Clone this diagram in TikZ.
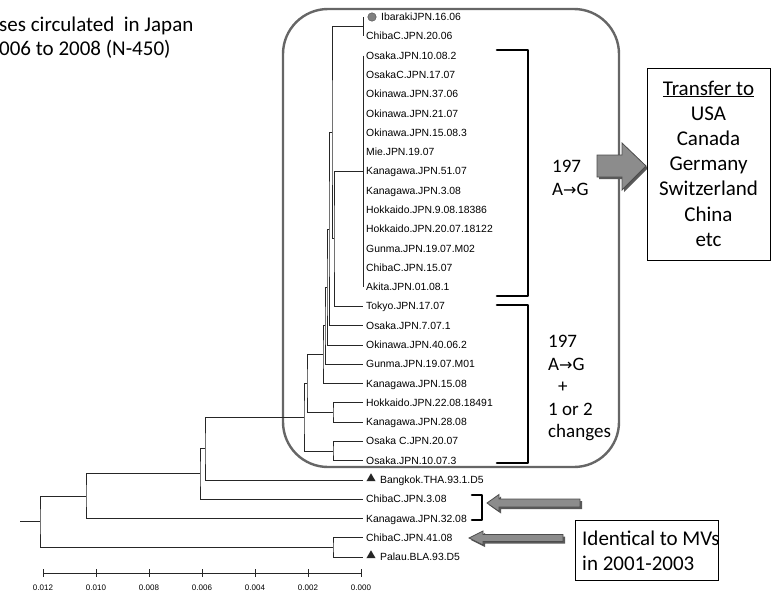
\documentclass[tikz,border=0pt]{standalone}
\usepackage{fontspec}
\setmainfont{Liberation Sans}
\newfontfamily\calfont{Carlito}
\newfontfamily\arrfont{DejaVu Sans}
\usetikzlibrary{shapes.geometric}
\begin{document}
\begin{tikzpicture}[x=1pt,y=-1pt,
 br/.style={line width=0.7pt, draw=black!85},
 leaf/.style={anchor=base west, inner sep=0pt, font=\fontsize{10.4}{12}\selectfont},
 note/.style={anchor=base west, inner sep=0pt, font=\calfont\fontsize{21}{25}\selectfont},
 snote/.style={anchor=base west, inner sep=0pt, font=\calfont\fontsize{19}{23}\selectfont},
 bk/.style={line width=2.6pt, line join=round, line cap=round},
 garrow/.style={fill=black!45, draw=black!70, line width=0.8pt},
 gshadow/.style={fill=black!65},
 tick/.style={anchor=base, inner sep=0pt, font=\fontsize{8}{9}\selectfont},
 box/.style={draw, line width=0.8pt, anchor=north west, inner sep=0pt}]
\useasboundingbox (0,0) rectangle (771,597);
\newcommand\arr{{\arrfont\fontsize{16}{18}\selectfont →}}

% title
\node[note] (ttl1) at (-1,31) {ses circulated\ \ in Japan};
\node[note] (ttl2) at (-1,55) {006 to 2008 (N-450)};

% rounded box
\draw[line width=2.4pt, draw=black!60, rounded corners=45pt] (283,9) rectangle (619,467);

% leaves
\foreach \lab/\dx [count=\i] in {IbarakiJPN.16.06/15, ChibaC.JPN.20.06/0, Osaka.JPN.10.08.2/0,
  OsakaC.JPN.17.07/0, Okinawa.JPN.37.06/0, Okinawa.JPN.21.07/0, Okinawa.JPN.15.08.3/0,
  Mie.JPN.19.07/0, Kanagawa.JPN.51.07/0, Kanagawa.JPN.3.08/0, Hokkaido.JPN.9.08.18386/0,
  Hokkaido.JPN.20.07.18122/0, Gunma.JPN.19.07.M02/0, ChibaC.JPN.15.07/0, Akita.JPN.01.08.1/0,
  Tokyo.JPN.17.07/0, Osaka.JPN.7.07.1/0, Okinawa.JPN.40.06.2/0, Gunma.JPN.19.07.M01/0,
  Kanagawa.JPN.15.08/0, Hokkaido.JPN.22.08.18491/0, Kanagawa.JPN.28.08/0, Osaka C.JPN.20.07/0,
  Osaka.JPN.10.07.3/0, Bangkok.THA.93.1.D5/14, ChibaC.JPN.3.08/0, Kanagawa.JPN.32.08/0,
  ChibaC.JPN.41.08/0, Palau.BLA.93.D5/14} {
  \pgfmathsetmacro\yy{17+(\i-1)*19.286}
  \coordinate (t\i) at (363,\yy);
  \node[leaf] (l\i) at (366+\dx,\yy+3.7) {\lab};
}
\node[circle, fill=black!50, draw=black!70, minimum size=8.5pt, inner sep=0pt] (m1) at (372,17) {};
\node[regular polygon, regular polygon sides=3, fill=black!85, minimum size=10.5pt, inner sep=0pt] (m25) at (371,478.5) {};
\node[regular polygon, regular polygon sides=3, fill=black!85, minimum size=10.5pt, inner sep=0pt] (m29) at (371,555.5) {};

% internal nodes
\coordinate (A) at (363,26.6);
\coordinate (S) at (363,171.3);
\coordinate (B) at (334,238.8);
\coordinate (C) at (332,132.7);
\coordinate (N1) at (329,229.1);
\coordinate (N2) at (327,287);
\coordinate (N3) at (325,325.6);
\coordinate (N4) at (323,354.5);
\coordinate (HK) at (333,412.4);
\coordinate (N5) at (307,383.4);
\coordinate (OS) at (333,450.9);
\coordinate (N6) at (304,417.2);
\coordinate (N7) at (205,448.5);
\coordinate (N8) at (200,473.8);
\coordinate (N9) at (86,496.1);
\coordinate (PC) at (333,547.4);
\coordinate (R) at (40,521.7);
\coordinate (R0) at (20,521.7);

\draw[br] (t1) -- (t2);
\draw[br] (t3) -- (t15);
\draw[br] (S) -| (B) |- (t16);
\draw[br] (A) -| (C) |- (B);
\draw[br] (C) -| (N1) |- (t17);
\draw[br] (N1) -| (N2) |- (t18);
\draw[br] (N2) -| (N3) |- (t19);
\draw[br] (N3) -| (N4) |- (t20);
\draw[br] (t21) -| (HK) |- (t22);
\draw[br] (N4) -| (N5) |- (HK);
\draw[br] (t23) -| (OS) |- (t24);
\draw[br] (N5) -| (N6) |- (OS);
\draw[br] (N6) -| (N7) |- (t25);
\draw[br] (N7) -| (N8) |- (t26);
\draw[br] (N8) -| (N9) |- (t27);
\draw[br] (t28) -| (PC) |- (t29);
\draw[br] (N9) -| (R) |- (PC);
\draw[br] (R0) -- (R);

% scale axis
\draw[br] (43,573) -- (361,573);
\foreach \v [count=\k from 0] in {0.012,0.010,0.008,0.006,0.004,0.002,0.000} {
  \draw[br] (43+53*\k,569) -- (43+53*\k,577);
  \node[tick] (ax\k) at (43+53*\k,590) {\v};
}

% brackets
\draw[bk] (497,50) -| (528,296) -- (497,296);
\draw[bk] (497,305) -| (528,463) -- (497,463);
\draw[bk] (472,495) -| (482,520) -- (472,520);

% labels
\node[snote] (u1) at (552,172) {197};
\node[snote] (u2) at (552,195) {A\arr G};
\node[snote] (d1) at (548,347) {197};
\node[snote] (d2) at (548,370) {A\arr G};
\node[snote] (d3) at (558,392) {+};
\node[snote] (d4) at (548,415) {1 or 2};
\node[snote] (d5) at (548,437) {changes};

% big arrow
\fill[gshadow] (599,157) -- (624,157) -- (624,145) -- (648,168) -- (624,192) -- (624,179) -- (599,179) -- cycle;
\draw[garrow] (597,155) -- (622,155) -- (622,143) -- (646,166) -- (622,190) -- (622,177) -- (597,177) -- cycle;

% transfer box
\node[box, minimum width=123pt, minimum height=192pt] (tbox) at (647,68) {};
\foreach \txt/\yb [count=\j] in {\underline{Transfer to}/95, USA/120.2, Canada/145.4, Germany/170.6,
   Switzerland/195.8, China/221, etc/246.2} {
  \node[note, anchor=base] (tb\j) at (708.5,\yb) {\txt};
}

% lower arrows
\fill[gshadow] (489,505) -- (501,496.5) -- (501,501) -- (582,501) -- (582,509) -- (501,509) -- (501,513.5) -- cycle;
\draw[garrow] (487,503) -- (499,494.5) -- (499,499) -- (580,499) -- (580,507) -- (499,507) -- (499,511.5) -- cycle;
\fill[gshadow] (471,540) -- (485,533) -- (485,536.5) -- (565,536.5) -- (565,543.5) -- (485,543.5) -- (485,547) -- cycle;
\draw[garrow] (469,538) -- (483,531) -- (483,534.5) -- (563,534.5) -- (563,541.5) -- (483,541.5) -- (483,545) -- cycle;

% identical box
\node[box, minimum width=143pt, minimum height=60pt] (ibox) at (575,520) {};
\node[note] (i1) at (582,545) {Identical to MVs};
\node[note] (i2) at (582,570) {in 2001-2003};
\end{tikzpicture}
\end{document}
